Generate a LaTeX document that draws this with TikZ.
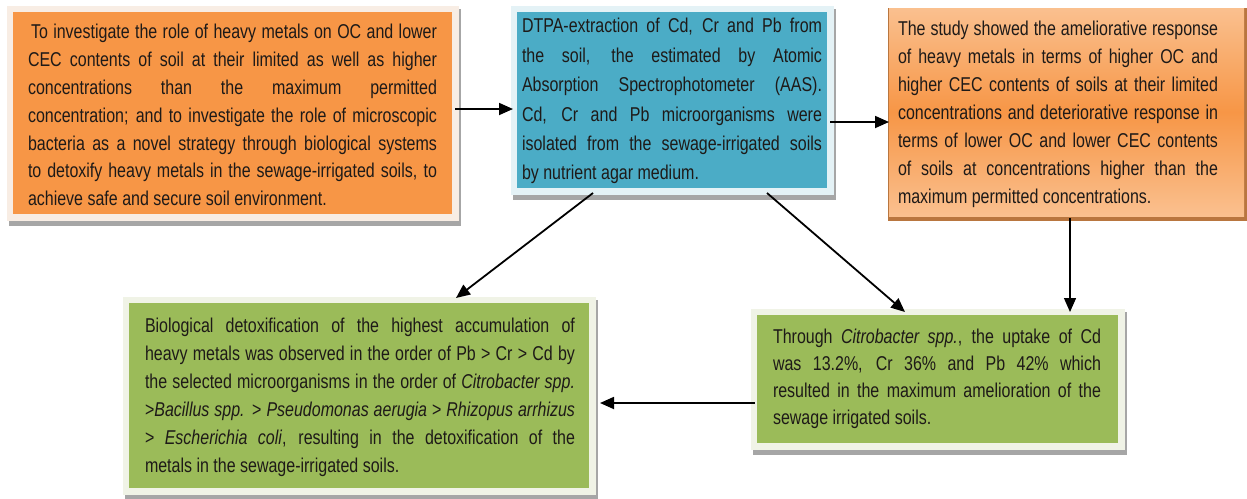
\documentclass[tikz,border=0pt]{standalone}
\usepackage{fontspec}
\setmainfont[FakeStretch=0.8]{Liberation Sans}
\usetikzlibrary{arrows.meta,calc}
\pgfdeclarelayer{background}
\pgfdeclarelayer{canvas}
\pgfsetlayers{canvas,background,main}
\definecolor{orangeA}{HTML}{F79646}
\definecolor{orangeL}{HTML}{FAC08F}
\definecolor{orangeS}{HTML}{B9763F}
\definecolor{blueA}{HTML}{4BACC6}
\definecolor{greenA}{HTML}{9BBB59}
\definecolor{frameO}{HTML}{F8EDE4}
\definecolor{frameB}{HTML}{E4F2F6}
\definecolor{frameG}{HTML}{F0F3E6}
\definecolor{shadowG}{HTML}{A6A6A6}
\definecolor{txtcol}{HTML}{1E1A18}
\newcommand{\jl}[2]{\makebox[#1][s]{#2}}
\newcommand{\myboxframe}[3]{%
  \begin{pgfonlayer}{background}
    \fill[#3] ($(#1.north west)+(-4,-3)$) rectangle ($(#1.south east)+(9,12)$);
    \fill[#2] ($(#1.north west)+(-6,-6)$) rectangle ($(#1.south east)+(7,7)$);
  \end{pgfonlayer}}
\begin{document}
\begin{tikzpicture}[x=1pt,y=-1pt,
  fillbox/.style={anchor=north west, inner sep=0pt, outer sep=0pt},
  txt/.style={anchor=north west, inner sep=0pt, outer sep=0pt, align=left, text=txtcol},
  arr/.style={line width=1.8pt, -{Triangle[length=14pt,width=12pt]}}]
\useasboundingbox (0,0) rectangle (1247,498);
\begin{pgfonlayer}{canvas}
\fill[white] (0,0) rectangle (1247,498);
\end{pgfonlayer}

% boxes
\node[fillbox, fill=orangeA, minimum width=439pt, minimum height=202pt] (b1) at (13,12) {};
\node[fillbox, fill=blueA, minimum width=310pt, minimum height=176pt] (b2) at (517,12) {};
\node[fillbox, top color=orangeL, bottom color=orangeL, middle color=orangeA, minimum width=355pt, minimum height=208pt] (b3) at (889,8) {};
\node[fillbox, fill=greenA, minimum width=460pt, minimum height=185pt] (b4) at (129,303) {};
\node[fillbox, fill=greenA, minimum width=361pt, minimum height=128pt] (b5) at (757,315) {};

\myboxframe{b1}{frameO}{shadowG}
\myboxframe{b2}{frameB}{shadowG}
\myboxframe{b4}{frameG}{shadowG}
\myboxframe{b5}{frameG}{shadowG}
\begin{pgfonlayer}{background}
  \fill[orangeS] ($(b3.north west)+(-1,0)$) rectangle ($(b3.south east)+(3,5)$);
\end{pgfonlayer}

% texts
\node[txt, font=\fontsize{20pt}{27.8pt}\selectfont] (t1) at (28,24.4) {%
\jl{409pt}{\hspace{3pt}To investigate the role of heavy metals on OC and lower}\\
\jl{409pt}{CEC contents of soil at their limited as well as higher}\\
\jl{409pt}{concentrations than the maximum permitted}\\
\jl{409pt}{concentration; and to investigate the role of microscopic}\\
\jl{409pt}{bacteria as a novel strategy through biological systems}\\
\jl{409pt}{to detoxify heavy metals in the sewage-irrigated soils, to}\\
achieve safe and secure soil environment.};

\node[txt, font=\fontsize{20pt}{29.4pt}\selectfont] (t2) at (522,18.4) {%
\jl{300pt}{DTPA-extraction of Cd, Cr and Pb from}\\
\jl{300pt}{the soil, the estimated by Atomic}\\
\jl{300pt}{Absorption Spectrophotometer (AAS).}\\
\jl{300pt}{Cd, Cr and Pb microorganisms were}\\
\jl{300pt}{isolated from the sewage-irrigated soils}\\
by nutrient agar medium.};

\node[txt, font=\fontsize{20pt}{28pt}\selectfont] (t3) at (898,21.4) {%
\jl{320pt}{The study showed the ameliorative response}\\
\jl{320pt}{of heavy metals in terms of higher OC and}\\
\jl{320pt}{higher CEC contents of soils at their limited}\\
\jl{320pt}{concentrations and deteriorative response in}\\
\jl{320pt}{terms of lower OC and lower CEC contents}\\
\jl{320pt}{of soils at concentrations higher than the}\\
maximum permitted concentrations.};

\node[txt, font=\fontsize{20pt}{28pt}\selectfont] (t4) at (145,318.4) {%
\jl{430pt}{Biological detoxification of the highest accumulation of}\\
\jl{430pt}{heavy metals was observed in the order of Pb > Cr > Cd by}\\
\jl{430pt}{the selected microorganisms in the order of \textit{Citrobacter spp.}}\\
\jl{430pt}{>\textit{Bacillus spp.} > \textit{Pseudomonas aerugia} > \textit{Rhizopus arrhizus}}\\
\jl{430pt}{> \textit{Escherichia coli}, resulting in the detoxification of the}\\
metals in the sewage-irrigated soils.};

\node[txt, font=\fontsize{20pt}{27pt}\selectfont] (t5) at (773,329.4) {%
\jl{328pt}{Through \textit{Citrobacter spp.}, the uptake of Cd}\\
\jl{328pt}{was 13.2\%, Cr 36\% and Pb 42\% which}\\
\jl{328pt}{resulted in the maximum amelioration of the}\\
sewage irrigated soils.};

% connectors
\draw[arr] ($(b1.north east)+(3,97)$) -- ($(b2.north west)+(-4,97)$);
\draw[arr] ($(b2.north east)+(3,110)$) -- ($(b3.north west)+(0,114)$);
\draw[arr] ($(b2.south west)+(76,5)$) -- ($(b4.north west)+(327,-5)$);
\draw[arr] ($(b2.south east)+(-60,5)$) -- ($(b5.north west)+(148,-3)$);
\draw[arr, line width=1.3pt] ($(b3.south west)+(181,2)$) -- ($(b5.north west)+(313,-3)$);
\draw[arr] ($(b5.north west)+(-2,88)$) -- ($(b4.north east)+(11,100)$);
\end{tikzpicture}
\end{document}
